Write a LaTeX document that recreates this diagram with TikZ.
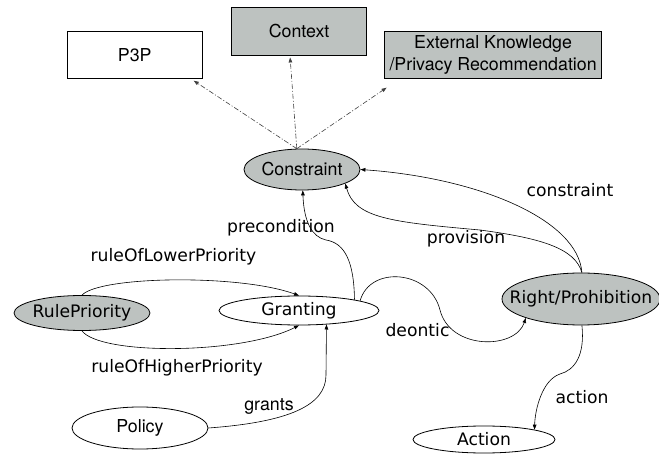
\documentclass[tikz,border=0pt]{standalone}
\usepackage{fontspec}
\setmainfont{DejaVu Sans}
\newfontfamily\helv{TeX Gyre Heros}
\usetikzlibrary{shapes.geometric,arrows.meta}
\definecolor{nodegray}{RGB}{189,194,192}
\begin{document}
\begin{tikzpicture}[x=1pt,y=-1pt,
  lfont/.style={font=\fontsize{17.2}{20}\selectfont},
  hfont/.style={font=\helv\fontsize{17.8}{22}\selectfont},
  ell/.style={draw=black,line width=0.8pt,ellipse,inner sep=0pt},
  grayfill/.style={fill=nodegray},
  box/.style={draw=black,line width=0.8pt,rectangle,inner sep=0pt,align=center},
  edge/.style={draw=black,line width=0.6pt,-{Triangle[length=5pt,width=3.6pt]}},
  link/.style={draw=black!75,line width=0.6pt,dash pattern=on 5pt off 2pt on 1pt off 2pt,-{Triangle[length=5pt,width=3.6pt]}},
  lbl/.style={lfont,anchor=base,inner sep=0pt},
  hlbl/.style={hfont,anchor=base,inner sep=0pt}
]
\useasboundingbox (0,0) rectangle (659,454);

% boxes
\node[box,hfont,minimum width=135pt,minimum height=46.6pt] (p3p) at (134.8,55) {P3P};
\node[box,grayfill,hfont,minimum width=135.3pt,minimum height=47.7pt] (ctx) at (299.1,31.2) {Context};
\node[box,grayfill,hfont,minimum width=217.2pt,minimum height=46.6pt] (ext) at (493.1,55) {External Knowledge\\/Privacy Recommendation};

% ellipses
\node[ell,grayfill,hfont,minimum width=116pt,minimum height=41pt] (cs) at (302,169.5) {\makebox[0pt]{Constraint}};
\node[ell,grayfill,lfont,minimum width=136pt,minimum height=35pt] (rp) at (82,313) {\makebox[0pt]{RulePriority}};
\node[ell,fill=white,lfont,minimum width=160pt,minimum height=29pt] (gr) at (299,310.5) {\makebox[0pt]{Granting}};
\node[ell,grayfill,lfont,minimum width=158pt,minimum height=52pt] (rpp) at (581,299) {\makebox[0pt]{Right/Prohibition}};
\node[ell,fill=white,hfont,minimum width=136pt,minimum height=42pt] (po) at (140,428) {\makebox[0pt]{Policy}};
\node[ell,fill=white,lfont,minimum width=142pt,minimum height=27pt] (ac) at (484,439.5) {\makebox[0pt]{Action}};

% dashed links
\draw[link] (cs.104) -- ([xshift=-9pt,yshift=-2pt]p3p.south east);
\draw[link] (cs.104) -- ([xshift=-9pt,yshift=-2pt]ctx.south);
\draw[link] (cs.104) -- ([xshift=2.5pt,yshift=-9pt]ext.south west);

% edges
\draw[edge] (gr.11) .. controls (354,262) and (345,243) .. (326,240) .. controls (312,237) and (304,222) .. (cs.-88);
\draw[edge] (gr.9) .. controls (370,265) and (430,270) .. (440,310) .. controls (450,350) and (515,350) .. (rpp.199);
\draw[edge] (rpp.88) .. controls (575,248) and (540,238) .. (480,230) .. controls (390,222) and (355,218) .. (cs.-18);
\draw[edge] (rpp.88) .. controls (578,220) and (480,178) .. (cs.east);
\draw[edge] (rp.north) .. controls (100,276) and (240,274) .. (gr.north);
\draw[edge] (rp.south) .. controls (100,355) and (240,355) .. (gr.south);
\draw[edge] (po.east) .. controls (290,422) and (326,405) .. (326,375) -- (gr.-27);
\draw[edge] (rpp.-88) .. controls (585,355) and (575,370) .. (560,374) .. controls (542,380) and (535,410) .. (ac.11);

% labels
\node[lbl] (lcons) at (570,196.7) {constraint};
\node[lbl] (lprov) at (466,244) {provision};
\node[lbl] (lprec) at (281,232.5) {precondition};
\node[lbl] (llow) at (173.5,261.5) {ruleOfLowerPriority};
\node[lbl] (lhigh) at (177,372.5) {ruleOfHigherPriority};
\node[lbl] (ldeon) at (417.5,336.7) {deontic};
\node[lbl] (lact) at (582,403) {action};
\node[hlbl] (lgrants) at (269,410) {grants};
\end{tikzpicture}
\end{document}
